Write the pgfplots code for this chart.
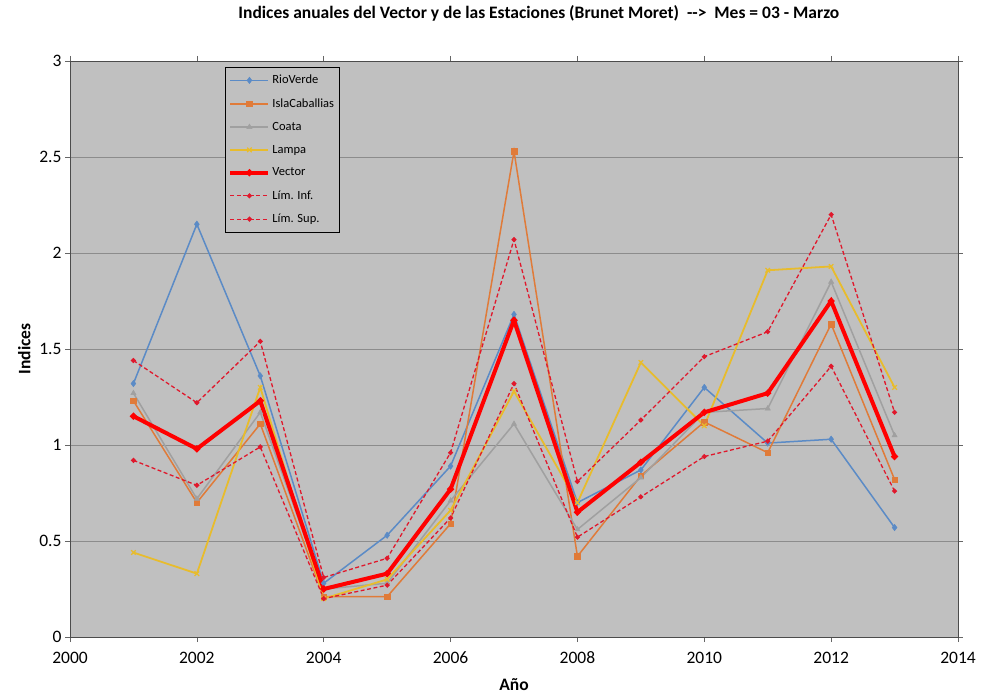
\documentclass[border=0pt]{standalone}
\usepackage{pgfplots}
\pgfplotsset{compat=1.18}
\usepackage{fontspec}
\setmainfont{Carlito}
\definecolor{bgc}{HTML}{C0C0C0}
\definecolor{cblue}{HTML}{5B8BC6}
\definecolor{corange}{HTML}{E07B39}
\definecolor{cgray}{HTML}{A0A0A0}
\definecolor{cgold}{HTML}{E8BC2C}
\definecolor{cred}{HTML}{FF0000}
\definecolor{cdash}{HTML}{E0182C}
\begin{document}
\begin{tikzpicture}
\begin{axis}[
  scale only axis, width=888pt, height=576pt,
  xmin=2000, xmax=2014, ymin=0, ymax=3,
  xtick={2000,2002,...,2014}, ytick={0,0.5,...,3},
  xticklabel style={/pgf/number format/1000 sep={}, yshift=-6pt, text height=12pt, text depth=2pt},
  /pgf/number format/assume math mode=true,
  /pgf/number format/1000 sep={},
  tick label style={font=\fontsize{17.5}{20}\selectfont, color=black},
  tick align=outside, tick style={color=black!60, line width=0.6pt},
  major tick length=5pt,
  ymajorgrids, grid style={color=black!45, line width=0.8pt},
  axis background/.style={fill=bgc},
  axis line style={color=black!70, line width=0.8pt},
  xlabel={\textbf{Año}}, ylabel={\textbf{Indices}},
  label style={font=\fontsize{17.5}{20}\selectfont},
  ylabel style={yshift=2pt},
  xlabel style={yshift=-6pt},
  title={\textbf{Indices anuales del Vector y de las Estaciones (Brunet Moret)\ \ -{}->\ \ Mes = 03 - Marzo}},
  title style={font=\fontsize{17.5}{20}\selectfont, at={(rel axis cs:0.528,1.072)}, anchor=center},
  legend style={at={(rel axis cs:0.1745,0.99)}, anchor=north west, fill=bgc, draw=black, line width=1pt,
    font=\fontsize{12.5}{14}\selectfont, row sep=9.3pt, inner xsep=3pt, inner ysep=6pt},
  legend cell align=left,
  legend image code/.code={\draw[mark repeat=2,mark phase=2] plot coordinates {(0pt,0pt)(19pt,0pt)(38pt,0pt)};},
  clip=false,
]
\addplot[color=cblue, line width=1.5pt, mark=diamond*, mark size=3.2pt, mark options={solid, line width=0.5pt}] coordinates {
(2001,1.32)(2002,2.15)(2003,1.36)(2004,0.28)(2005,0.53)(2006,0.89)(2007,1.68)(2008,0.70)(2009,0.87)(2010,1.30)(2011,1.01)(2012,1.03)(2013,0.57)};
\addlegendentry{RioVerde}
\addplot[color=corange, line width=1.5pt, mark=square*, mark size=2.8pt, mark options={solid, line width=0.5pt}] coordinates {
(2001,1.23)(2002,0.70)(2003,1.11)(2004,0.21)(2005,0.21)(2006,0.59)(2007,2.53)(2008,0.42)(2009,0.84)(2010,1.12)(2011,0.96)(2012,1.63)(2013,0.82)};
\addlegendentry{IslaCaballias}
\addplot[color=cgray, line width=1.5pt, mark=triangle*, mark size=3pt, mark options={solid, line width=0.5pt}] coordinates {
(2001,1.27)(2002,0.72)(2003,1.17)(2004,0.25)(2005,0.28)(2006,0.71)(2007,1.11)(2008,0.56)(2009,0.83)(2010,1.17)(2011,1.19)(2012,1.85)(2013,1.05)};
\addlegendentry{Coata}
\addplot[color=cgold, line width=1.8pt, mark=x, mark size=3.2pt, mark options={solid, line width=1.2pt}] coordinates {
(2001,0.44)(2002,0.33)(2003,1.30)(2004,0.20)(2005,0.30)(2006,0.66)(2007,1.28)(2008,0.70)(2009,1.43)(2010,1.10)(2011,1.91)(2012,1.93)(2013,1.30)};
\addlegendentry{Lampa}
\addplot[color=cred, line width=4pt, mark=*, mark size=1pt] coordinates {
(2001,1.15)(2002,0.98)(2003,1.23)(2004,0.25)(2005,0.33)(2006,0.77)(2007,1.65)(2008,0.65)(2009,0.91)(2010,1.17)(2011,1.27)(2012,1.75)(2013,0.94)};
\addlegendentry{Vector}
\addplot[color=cdash, line width=1.3pt, dash pattern=on 4pt off 2.5pt, mark=*, mark size=1.8pt, mark options={solid}] coordinates {
(2001,0.92)(2002,0.79)(2003,0.99)(2004,0.20)(2005,0.27)(2006,0.62)(2007,1.32)(2008,0.52)(2009,0.73)(2010,0.94)(2011,1.02)(2012,1.41)(2013,0.76)};
\addlegendentry{Lím. Inf.}
\addplot[color=cdash, line width=1.3pt, dash pattern=on 4pt off 2.5pt, mark=*, mark size=1.8pt, mark options={solid}] coordinates {
(2001,1.44)(2002,1.22)(2003,1.54)(2004,0.31)(2005,0.41)(2006,0.96)(2007,2.07)(2008,0.81)(2009,1.13)(2010,1.46)(2011,1.59)(2012,2.20)(2013,1.17)};
\addlegendentry{Lím. Sup.}
\end{axis}
\pgfresetboundingbox
\path (current axis.south west) ++(-70pt,-59pt) rectangle ++(981pt,696pt);
\end{tikzpicture}
\end{document}
